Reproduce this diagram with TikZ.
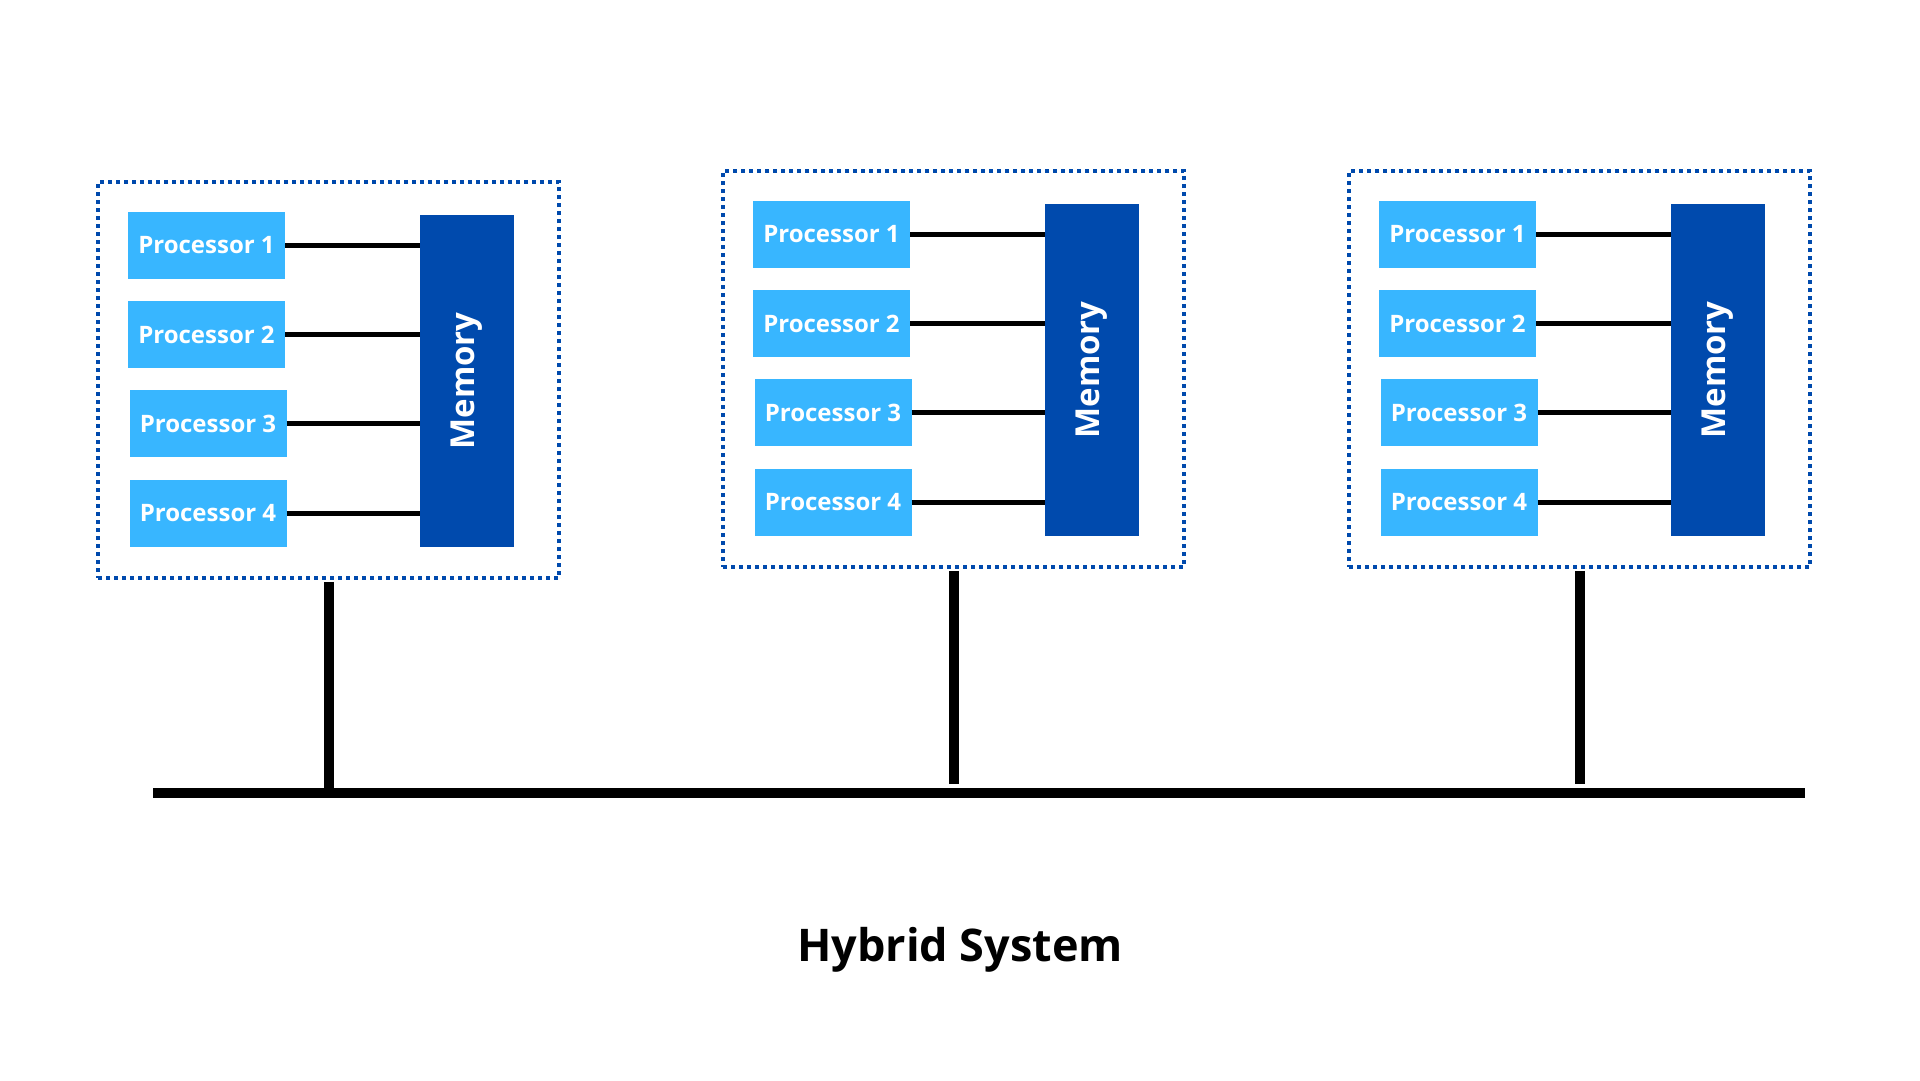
\documentclass[tikz,border=0pt]{standalone}
\usepackage{fontspec}
\setmainfont{Open Sans}
\definecolor{procblue}{HTML}{38B6FF}
\definecolor{memblue}{HTML}{004AAD}
\tikzset{
  procbox/.style={fill=procblue, draw=none, inner sep=0pt, minimum width=157pt, minimum height=67pt,
    text=white, font=\fontsize{24}{27}\selectfont\bfseries},
  membox/.style={fill=memblue, draw=none, inner sep=0pt, minimum width=94pt, minimum height=332pt},
  memtext/.style={text=white, font=\fontsize{33}{36}\selectfont\bfseries, rotate=90, inner sep=0pt},
  framebox/.style={draw=memblue, line width=3.5pt, dash pattern=on 4pt off 4pt, inner sep=0pt,
    minimum width=461pt, minimum height=396pt},
  link/.style={draw=black, line width=5pt},
  bus/.style={draw=black, line width=10pt},
  drop/.style={draw=black, line width=10pt},
}
\begin{document}
\begin{tikzpicture}[x=1pt,y=-1pt]
\useasboundingbox (0,0) rectangle (1920,1080);
\fill[white] (0,0) rectangle (1920,1080);
\coordinate (busL) at (153,793);
\coordinate (busR) at (1805,793);
\foreach \i/\dx/\dy in {a/-625/11, b/0/0, c/626/0}{
  \begin{scope}[shift={(\dx,\dy)}]
    \node[framebox] (fr\i) at (953.5,369) {};
    \node[procbox] (p1\i) at (831.5,234.5) {Processor 1};
    \node[procbox] (p2\i) at (831.5,323.5) {Processor 2};
    \node[procbox] (p3\i) at (833,412.5) {Processor 3};
    \node[procbox] (p4\i) at (833,502) {Processor 4};
    \node[membox] (m\i) at (1092,370) {};
    \node[memtext] (mt\i) at (m\i.center) {Memory};
    \draw[link] (p1\i.east) -- (m\i.west |- p1\i.east);
    \draw[link] (p2\i.east) -- (m\i.west |- p2\i.east);
    \draw[link] (p3\i.east) -- (m\i.west |- p3\i.east);
    \draw[link] (p4\i.east) -- (m\i.west |- p4\i.east);
  \end{scope}
}
\coordinate (ea) at (fra.south |- busL);
\coordinate (eb) at ([yshift=9pt]frb.south |- busL);
\coordinate (ec) at ([yshift=9pt]frc.south |- busL);
\draw[drop] ([yshift=-2pt]fra.south) -- (ea);
\draw[drop] ([yshift=-2pt]frb.south) -- (eb);
\draw[drop] ([yshift=-2pt]frc.south) -- (ec);
\draw[bus] (busL) -- (busR);
\node[font=\fontsize{45}{50}\selectfont\bfseries, text=black] (title) at (960,950) {Hybrid System};
\end{tikzpicture}
\end{document}
